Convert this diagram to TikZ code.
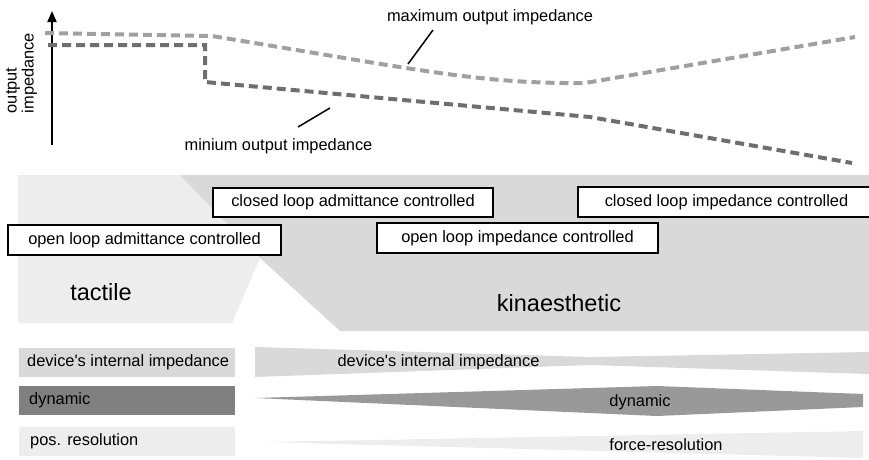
\documentclass[tikz,border=0pt]{standalone}
\usepackage{fontspec}
\setmainfont{Liberation Sans}
\usetikzlibrary{arrows.meta}
\definecolor{lightgr}{HTML}{ECEDEC}
\definecolor{darkreg}{HTML}{D9D9D9}
\definecolor{maxgray}{HTML}{A0A0A0}
\definecolor{mingray}{HTML}{6E6E6E}
\definecolor{dynbox}{HTML}{808080}
\definecolor{dynband}{HTML}{999999}
\begin{document}
\begin{tikzpicture}[x=1pt,y=-1pt,
  txt/.style={font=\fontsize{16.4}{16.8}\selectfont, inner sep=0pt, text=black},
  big/.style={font=\fontsize{23.5}{26}\selectfont, inner sep=0pt},
  modebox/.style={draw=black, line width=1.6pt, fill=white, font=\fontsize{16.4}{17}\selectfont, inner sep=0pt},
  maxline/.style={draw=maxgray, line width=4pt, dash pattern=on 9pt off 5pt},
  minline/.style={draw=mingray, line width=4pt, dash pattern=on 9pt off 5pt},
  pointer/.style={draw=black, line width=1.5pt},
]
\useasboundingbox (0,0) rectangle (869,459);
\clip (0,0) rectangle (869,459);

% ---------- top chart ----------
\coordinate (axbot) at (52,145);
\coordinate (axtop) at (52,11);
\draw[line width=2pt, -{Triangle[length=11pt,width=9pt]}] (axbot) -- (axtop);
\node[txt, rotate=90, align=left] (ylbl) at (21.5,73) {output\\impedance};

\draw[maxline] (45,33) -- (212,36) .. controls (420,70) and (480,84) .. (585,83) -- (855,37);
\draw[minline] (48,45) -- (205,45) -- (205,82) -- (590,117) -- (852,163);

\node[txt] (maxlbl) at (490,17) {maximum output impedance};
\node[txt] (minlbl) at (278.5,146) {minium output impedance};
\coordinate (maxpt) at (408,64);
\coordinate (maxend) at (433,30);
\coordinate (minpt) at (330,108);
\coordinate (minend) at (298,127);
\draw[pointer] (maxend) -- (maxpt);
\draw[pointer] (minend) -- (minpt);

% ---------- regions ----------
\fill[lightgr] (18,175) -- (180,175) -- (260,258) -- (232,323) -- (18,323) -- cycle;
\fill[darkreg] (180,175) -- (869,175) -- (869,331) -- (340,331) -- (260,258) -- cycle;

\node[big] (tactile) at (101,292) {tactile};
\node[big] (kin) at (559,303) {kinaesthetic};

\node[modebox, minimum width=280pt, minimum height=29pt] (cla) at (353,202.5) {closed loop admittance controlled};
\node[modebox, minimum width=273pt, minimum height=30pt] (ola) at (144.5,240) {open loop admittance controlled};
\node[modebox, minimum width=281pt, minimum height=30pt] (oli) at (517.5,238) {open loop impedance controlled};
\node[modebox, minimum width=297pt, minimum height=30pt] (cli) at (726.5,202) {closed loop impedance controlled};

% ---------- bottom rows ----------
\fill[darkreg] (19,348) rectangle (235,377);
\fill[dynbox] (19,386) rectangle (235,415);
\fill[lightgr] (19,427) rectangle (235,456);
\node[txt, anchor=west] (lint) at (27,362.5) {device\textquotesingle s internal impedance};
\node[txt, anchor=west] (ldyn) at (29,400.5) {dynamic};
\node[txt, anchor=west] (lpos) at (30,441.5) {pos. resolution};

\fill[darkreg] (255,347) -- (590,357) -- (869,352) -- (869,374) -- (590,365) -- (255,377) -- cycle;
\fill[dynband] (255,398) -- (657,386) -- (863,394) -- (863,407) -- (657,416) -- cycle;
\fill[lightgr] (263,442) -- (863,431) -- (863,458) -- cycle;

\node[txt] (rint) at (438.5,362) {device\textquotesingle s internal impedance};
\node[txt] (rdyn) at (640,402) {dynamic};
\node[txt] (rfor) at (666,445) {force-resolution};
\end{tikzpicture}
\end{document}
